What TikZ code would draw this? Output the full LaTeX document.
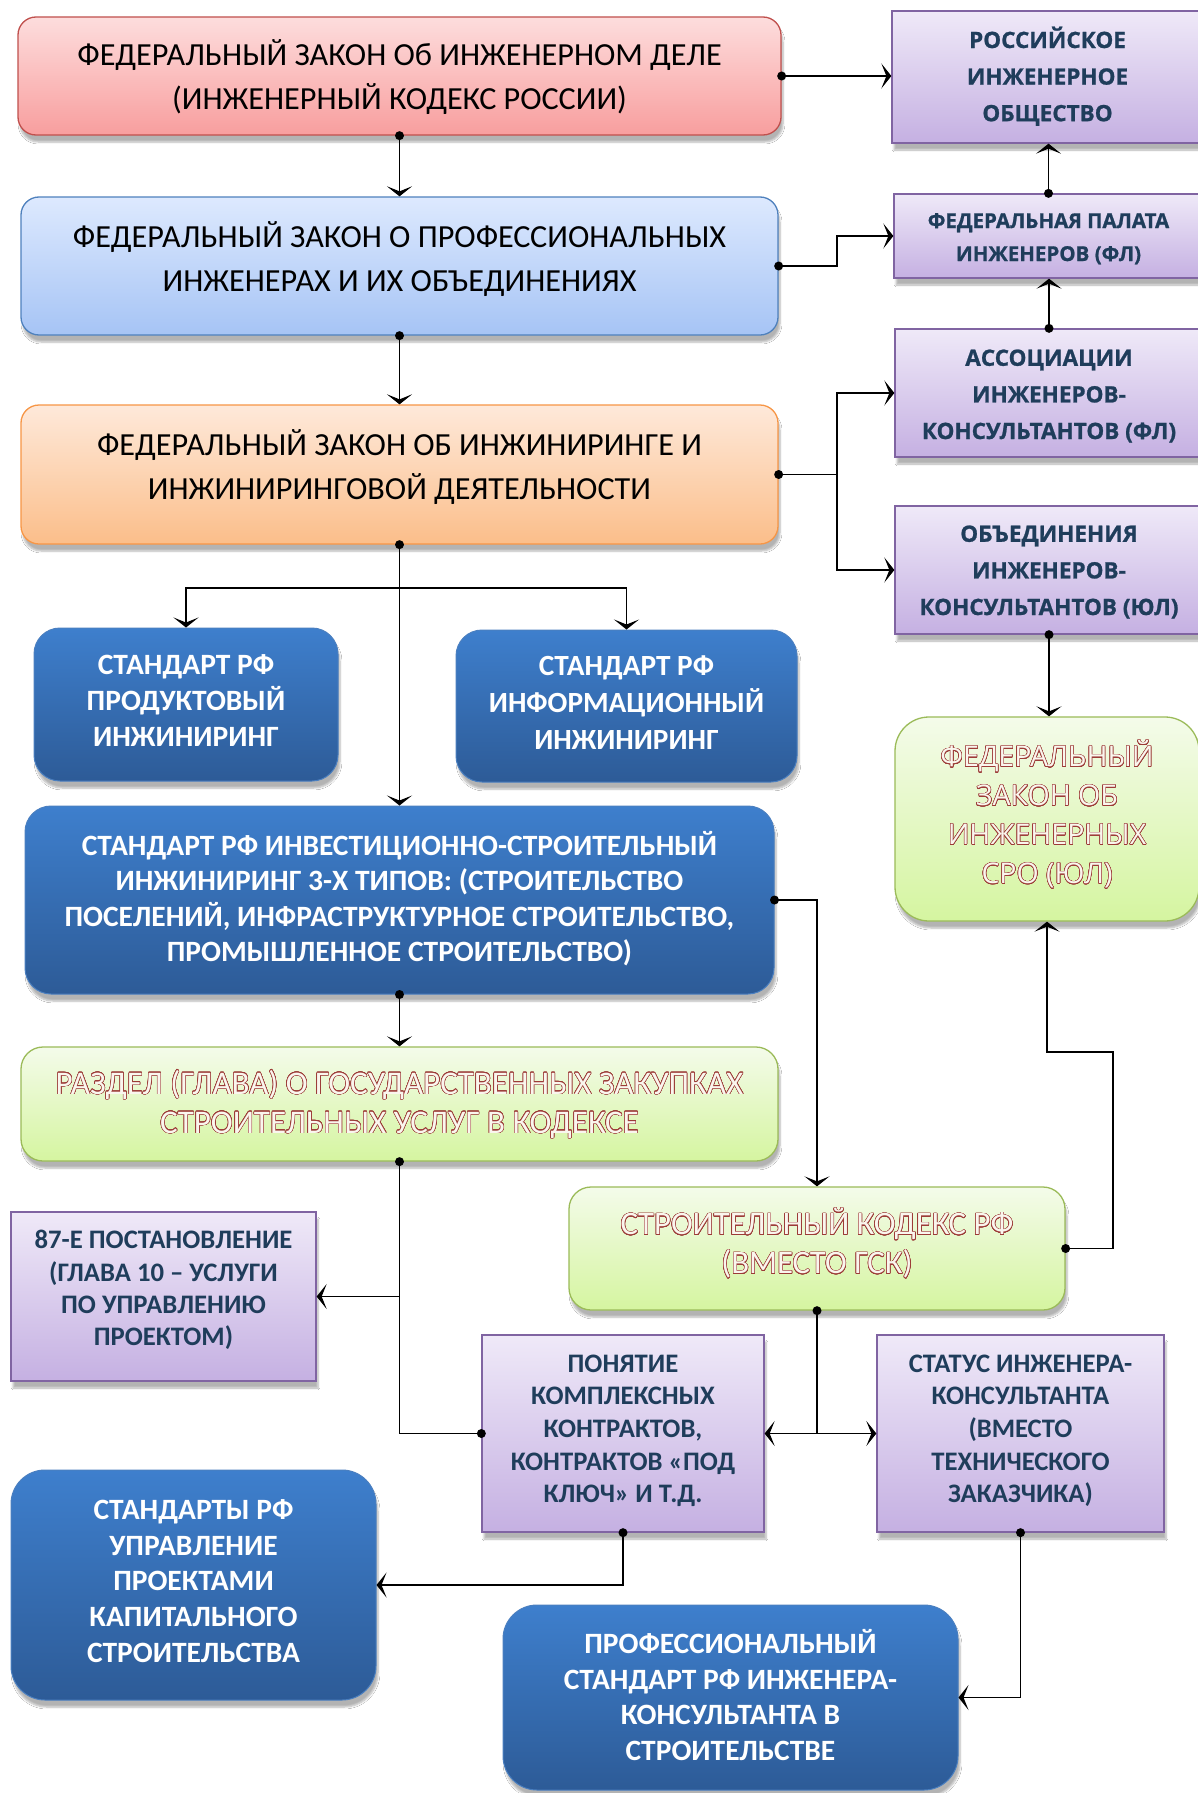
\documentclass[tikz,border=0pt]{standalone}
\usepackage{fontspec}
\setmainfont{Carlito}
\newfontfamily\widefont{Open Sans}[BoldFeatures={FakeBold=1}]
\usepackage[copies]{contour}
\contourlength{0.5pt}
\contournumber{24}
\usetikzlibrary{arrows.meta,shadows.blur}

\definecolor{redtop}{HTML}{FDDDDD}
\definecolor{redbot}{HTML}{F89E9E}
\definecolor{redline}{HTML}{C0504D}
\definecolor{lbtop}{HTML}{DDE9FE}
\definecolor{lbbot}{HTML}{A6C4F5}
\definecolor{lbline}{HTML}{4F81BD}
\definecolor{ortop}{HTML}{FEE9DA}
\definecolor{orbot}{HTML}{FBBE8A}
\definecolor{orline}{HTML}{F79646}
\definecolor{grtop}{HTML}{F4FBEA}
\definecolor{grbot}{HTML}{D5F5A0}
\definecolor{grline}{HTML}{9BBB59}
\definecolor{putop}{HTML}{EFE9F8}
\definecolor{pubot}{HTML}{C5B0E2}
\definecolor{puline}{HTML}{8064A2}
\definecolor{dbtop}{HTML}{3E7FCD}
\definecolor{dbbot}{HTML}{2D5B97}
\definecolor{dbline}{HTML}{4A7FC0}
\definecolor{navy}{HTML}{1F3D5B}
\definecolor{olred}{HTML}{9C3B37}
\definecolor{olfill}{HTML}{FAF6EE}

\newcommand\olt[1]{\contour{olred}{\textcolor{olfill}{#1}}}

% text height places the last baseline: offset from centre = (height - 10pt)/2
\tikzset{
  box/.style={draw, line width=1.3pt, align=center, inner sep=0pt, text depth=10pt,
    blur shadow={shadow xshift=2pt, shadow yshift=-7pt, shadow blur steps=6, shadow opacity=30}},
  lawbox/.style={box, rounded corners=18pt, font=\fontsize{32.2}{44}\selectfont},
  redbox/.style={lawbox, top color=redtop, bottom color=redbot, draw=redline},
  lbbox/.style={lawbox, top color=lbtop, bottom color=lbbot, draw=lbline},
  orbox/.style={lawbox, top color=ortop, bottom color=orbot, draw=orline},
  orgbox/.style={box, rounded corners=22pt, top color=grtop, bottom color=grbot, draw=grline},
  orgpurple/.style={box, top color=putop, bottom color=pubot, draw=puline,
    text=navy, font=\widefont\bfseries\fontsize{22.5}{36.6}\selectfont},
  docpurple/.style={box, top color=putop, bottom color=pubot, draw=puline,
    text=navy, font=\bfseries\fontsize{26.7}{32.3}\selectfont},
  stdbox/.style={box, rounded corners=26pt, top color=dbtop, bottom color=dbbot, draw=dbline,
    line width=1pt, text=white, font=\bfseries\fontsize{29.5}{36}\selectfont},
  conn/.style={line width=1.5pt, -{Stealth[length=10pt,width=25pt,inset=5pt]}},
  dot/.style={fill=black},
}

\begin{document}
\begin{tikzpicture}[x=1pt,y=-1pt]
\useasboundingbox (0,0) rectangle (1198,1793);
\fill[white] (0,0) rectangle (1198,1793);

% federal laws, left column
\node[redbox, minimum width=763pt, minimum height=118pt, text height=76.6pt] (red) at (399.5,76)
  {ФЕДЕРАЛЬНЫЙ ЗАКОН Об ИНЖЕНЕРНОМ ДЕЛЕ\\(ИНЖЕНЕРНЫЙ КОДЕКС РОССИИ)};
\node[lbbox, minimum width=757pt, minimum height=138pt, text height=60pt] (lblue) at (399.5,266)
  {ФЕДЕРАЛЬНЫЙ ЗАКОН О ПРОФЕССИОНАЛЬНЫХ\\ИНЖЕНЕРАХ И ИХ ОБЪЕДИНЕНИЯХ};
\node[orbox, minimum width=757pt, minimum height=139pt, text height=59.2pt] (orange) at (399.5,474.5)
  {ФЕДЕРАЛЬНЫЙ ЗАКОН ОБ ИНЖИНИРИНГЕ И\\ИНЖИНИРИНГОВОЙ ДЕЯТЕЛЬНОСТИ};

% organisations, right column
\node[orgpurple, minimum width=311pt, minimum height=132pt, text height=98.4pt] (rio) at (1047.5,77)
  {РОССИЙСКОЕ\\ИНЖЕНЕРНОЕ\\ОБЩЕСТВО};
\node[orgpurple, minimum width=309pt, minimum height=84pt, text height=60pt,
  font=\widefont\bfseries\fontsize{20.5}{33}\selectfont] (fpi) at (1048.5,236)
  {ФЕДЕРАЛЬНАЯ ПАЛАТА\\ИНЖЕНЕРОВ (ФЛ)};
\node[orgpurple, minimum width=308pt, minimum height=128pt, text height=102pt] (assoc) at (1049,393)
  {АССОЦИАЦИИ\\ИНЖЕНЕРОВ-\\КОНСУЛЬТАНТОВ (ФЛ)};
\node[orgpurple, minimum width=308pt, minimum height=128pt, text height=100pt] (obed) at (1049,570)
  {ОБЪЕДИНЕНИЯ\\ИНЖЕНЕРОВ-\\КОНСУЛЬТАНТОВ (ЮЛ)};
\node[orgbox, rounded corners=34pt, minimum width=304pt, minimum height=204pt, text height=139.2pt,
  font=\widefont\fontsize{28.5}{38.9}\selectfont] (sro) at (1047,819)
  {\olt{ФЕДЕРАЛЬНЫЙ}\\\olt{ЗАКОН ОБ}\\\olt{ИНЖЕНЕРНЫХ}\\\olt{СРО (ЮЛ)}};

% standards
\node[stdbox, minimum width=304pt, minimum height=153pt, text height=94.6pt] (prod) at (186,704.5)
  {СТАНДАРТ РФ\\ПРОДУКТОВЫЙ\\ИНЖИНИРИНГ};
\node[stdbox, minimum width=341pt, minimum height=152pt, text height=96.2pt,
  font=\bfseries\fontsize{29.3}{36.6}\selectfont] (inf) at (626.5,706)
  {СТАНДАРТ РФ\\ИНФОРМАЦИОННЫЙ\\ИНЖИНИРИНГ};
\node[stdbox, minimum width=749pt, minimum height=188pt, text height=133.2pt,
  font=\bfseries\fontsize{29.5}{35.4}\selectfont] (big) at (399.5,900)
  {СТАНДАРТ РФ ИНВЕСТИЦИОННО-СТРОИТЕЛЬНЫЙ\\ИНЖИНИРИНГ 3-Х ТИПОВ: (СТРОИТЕЛЬСТВО\\ПОСЕЛЕНИЙ, ИНФРАСТРУКТУРНОЕ СТРОИТЕЛЬСТВО,\\ПРОМЫШЛЕННОЕ СТРОИТЕЛЬСТВО)};

% codes
\node[orgbox, minimum width=757pt, minimum height=114pt, text height=68.4pt,
  font=\fontsize{33}{38.9}\selectfont] (razdel) at (399.5,1104)
  {\olt{РАЗДЕЛ (ГЛАВА) О ГОСУДАРСТВЕННЫХ ЗАКУПКАХ}\\\olt{СТРОИТЕЛЬНЫХ УСЛУГ В КОДЕКСЕ}};
\node[orgbox, minimum width=496pt, minimum height=123pt, text height=60.6pt,
  font=\fontsize{32.8}{38.9}\selectfont] (gsk) at (817,1248.5)
  {\olt{СТРОИТЕЛЬНЫЙ КОДЕКС РФ}\\\olt{(ВМЕСТО ГСК)}};

% documents and notions
\node[docpurple, minimum width=305pt, minimum height=169pt, text height=108.6pt] (p87) at (163.5,1296.5)
  {87-Е ПОСТАНОВЛЕНИЕ\\(ГЛАВА 10 – УСЛУГИ\\ПО УПРАВЛЕНИЮ\\ПРОЕКТОМ)};
\node[docpurple, minimum width=282pt, minimum height=197pt, text height=148.4pt,
  font=\bfseries\fontsize{26.7}{32.6}\selectfont] (pon) at (623,1433.5)
  {ПОНЯТИЕ\\КОМПЛЕКСНЫХ\\КОНТРАКТОВ,\\КОНТРАКТОВ «ПОД\\КЛЮЧ» И Т.Д.};
\node[docpurple, minimum width=287pt, minimum height=197pt, text height=148.4pt,
  font=\bfseries\fontsize{26.7}{32.6}\selectfont] (stat) at (1020.5,1433.5)
  {СТАТУС ИНЖЕНЕРА-\\КОНСУЛЬТАНТА\\(ВМЕСТО\\ТЕХНИЧЕСКОГО\\ЗАКАЗЧИКА)};
\node[stdbox, rounded corners=34pt, minimum width=365pt, minimum height=230pt, text height=164.6pt,
  font=\bfseries\fontsize{29.5}{35.7}\selectfont] (stds) at (193.5,1585)
  {СТАНДАРТЫ РФ\\УПРАВЛЕНИЕ\\ПРОЕКТАМИ\\КАПИТАЛЬНОГО\\СТРОИТЕЛЬСТВА};
\node[stdbox, rounded corners=34pt, minimum width=455pt, minimum height=185pt, text height=136.4pt,
  font=\bfseries\fontsize{29.5}{35.8}\selectfont] (prof) at (730.5,1697.5)
  {ПРОФЕССИОНАЛЬНЫЙ\\СТАНДАРТ РФ ИНЖЕНЕРА-\\КОНСУЛЬТАНТА В\\СТРОИТЕЛЬСТВЕ};

% bus lines and bends
\coordinate (busR) at (837,0);
\coordinate (split) at (399.5,588);
\coordinate (bend) at (1113,1052);
\coordinate (j87) at (399.5,1296.5);

% connectors
\draw[conn] (red.east) -- (red.east -| rio.west);
\draw[conn] (red.south) -- (lblue.north);
\draw[conn] (lblue.east) -- (lblue.east -| busR) |- (fpi.west);
\draw[conn] (fpi.north) -- (fpi.north |- rio.south);
\draw[conn] (assoc.north) -- (assoc.north |- fpi.south);
\draw[conn] (lblue.south) -- (orange.north);
\draw[conn] (orange.east) -- (orange.east -| busR) |- (assoc.west);
\draw[conn] (orange.east -| busR) |- (obed.west);
\draw[conn] (orange.south) -- (big.north);
\draw[conn] (split) -| (prod.north);
\draw[conn] (split) -| (inf.north);
\draw[conn] (obed.south) -- (obed.south |- sro.north);
\draw[conn] (big.east) -| (gsk.north);
\draw[conn] (big.south) -- (razdel.north);
\draw[conn] (razdel.south) |- (p87.east);
\draw[line width=1.5pt] (pon.west) -| (j87);
\draw[conn] (gsk.east) -| (bend) -| (sro.south);
\draw[conn] (gsk.south) |- (pon.east);
\draw[conn] (gsk.south) |- (stat.west);
\draw[conn] (pon.south) |- (stds.east);
\draw[conn] (stat.south) |- (prof.east);

% junction dots
\foreach \p in {red.east, red.south, lblue.east, lblue.south, orange.east, orange.south,
  fpi.north, assoc.north, obed.south, big.east, big.south, razdel.south, pon.west,
  gsk.east, gsk.south, pon.south, stat.south}
  \fill[dot] (\p) circle (4.5pt);
\end{tikzpicture}
\end{document}
